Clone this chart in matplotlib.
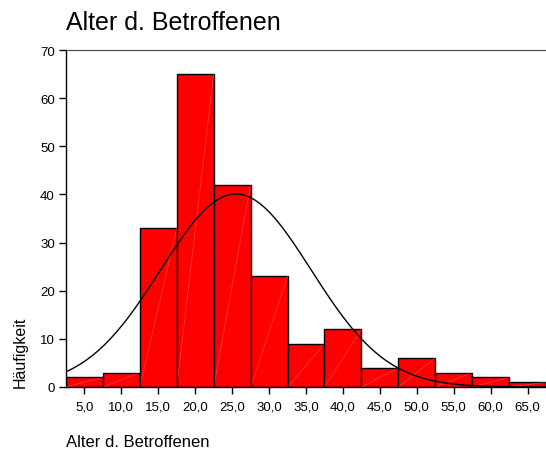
import numpy as np
import matplotlib
matplotlib.use("Agg")
import matplotlib.pyplot as plt

plt.rcParams['font.family'] = ['Liberation Sans', 'DejaVu Sans']

# Data
bin_centers = [5, 10, 15, 20, 25, 30, 35, 40, 45, 50, 55, 60, 65]
counts = [2, 3, 33, 65, 42, 23, 9, 12, 4, 6, 3, 2, 1]
bin_width = 5
fit_mean = 25.5
fit_sd = 10.2
x_tick_values = [5, 10, 15, 20, 25, 30, 35, 40, 45, 50, 55, 60, 65]
x_tick_labels = ["5,0", "10,0", "15,0", "20,0", "25,0", "30,0", "35,0",
                 "40,0", "45,0", "50,0", "55,0", "60,0", "65,0"]
y_tick_values = [0, 10, 20, 30, 40, 50, 60, 70]

fig = plt.figure(figsize=(5.46, 4.52), dpi=100)
ax = fig.add_axes([66/546, 1-388/452, 1-66/546, (388-51)/452])

ax.bar(bin_centers, counts, width=bin_width, color='#ff0000',
       edgecolor='black', linewidth=1.0, zorder=2)
# faint diagonal artefact lines inside bars
for c, h in zip(bin_centers, counts):
    ax.plot([c - bin_width/2, c + bin_width/2], [0, h], color='white',
            alpha=0.22, lw=0.6, zorder=3)

# normal curve
n = sum(counts)
xs = np.linspace(2.5, 67.5, 400)
ys = n * bin_width / (fit_sd * np.sqrt(2*np.pi)) * np.exp(-0.5*((xs-fit_mean)/fit_sd)**2)
ax.plot(xs, ys, color='black', lw=1.0, zorder=4)

ax.set_xlim(2.5, 67.5)
ax.set_ylim(0, 70)
ax.set_xticks(x_tick_values)
ax.set_xticklabels(x_tick_labels, fontsize=9.5)
ax.set_yticks(y_tick_values)
ax.set_yticklabels([str(v) for v in y_tick_values], fontsize=9.5)
ax.tick_params(axis='x', direction='out', length=5, width=1, pad=4.5)
ax.tick_params(axis='y', direction='out', length=5, width=1, pad=3)

ax.spines['right'].set_visible(False)
ax.spines['top'].set_color('#444444')
for s in ['left', 'bottom']:
    ax.spines[s].set_linewidth(1.0)

fig.text(66/546, 1-30/452, "Alter d. Betroffenen", fontsize=18, ha='left', va='baseline')
fig.text(66/546, 1-443/452, "Alter d. Betroffenen", fontsize=12, ha='left', va='center')
fig.text(20/546, 1-388/452, "Häufigkeit", fontsize=11.5, rotation=90, ha='center', va='bottom')

fig.savefig("out.png", dpi=100)
